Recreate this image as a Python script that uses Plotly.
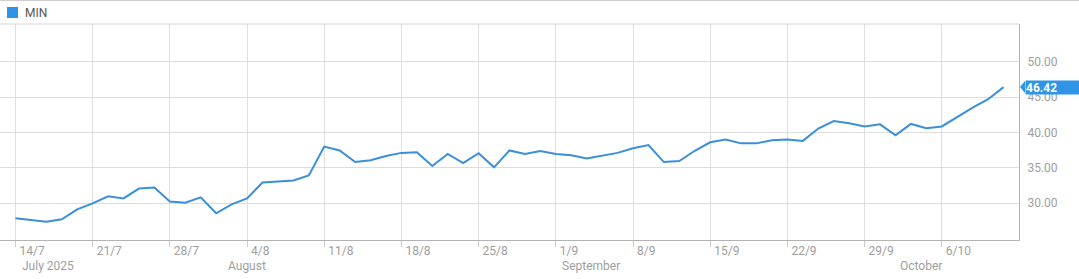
import plotly.graph_objects as go
import pandas as pd

series_name = "MIN"
dates = pd.bdate_range("2025-07-14", "2025-10-10")
values = [27.83, 27.55, 27.35, 27.70, 29.10, 29.95, 30.95, 30.65, 32.05, 32.20,
          30.20, 30.05, 30.80, 28.55, 29.80, 30.65, 32.90, 33.05, 33.20, 33.90,
          38.00, 37.45, 35.80, 36.05, 36.65, 37.10, 37.20, 35.25, 36.95, 35.65,
          37.05, 35.05, 37.45, 36.95, 37.35, 36.95, 36.75, 36.30, 36.75, 37.10,
          37.75, 38.20, 35.80, 35.95, 37.40, 38.60, 39.00, 38.45, 38.45, 38.90,
          39.00, 38.80, 40.55, 41.60, 41.30, 40.85, 41.15, 39.60, 41.20, 40.60,
          40.85, 42.20, 43.50, 44.70, 46.42]

tick_dates = ["2025-07-14", "2025-07-21", "2025-07-28", "2025-08-04", "2025-08-11",
              "2025-08-18", "2025-08-25", "2025-09-01", "2025-09-08", "2025-09-15",
              "2025-09-22", "2025-09-29", "2025-10-06"]
tick_labels = ["14/7", "21/7", "28/7", "4/8", "11/8", "18/8", "25/8", "1/9", "8/9",
               "15/9", "22/9", "29/9", "6/10"]
y_ticks = [30, 35, 40, 45, 50]
y_tick_labels = ["30.00", "35.00", "40.00", "45.00", "50.00"]

month_labels = ["July 2025", "August", "September", "October"]
month_anchor_dates = ["2025-07-14", "2025-08-04", "2025-09-01", "2025-10-06"]
month_xanchor = ["left", "center", "left", "right"]
month_xshift = [5, 0, 4, 2]

W, H = 1079, 279
ML, MR, MT, MB = 0, 60, 24, 39
PW, PH = W - ML - MR, H - MT - MB

def px_x(p):
    return (p - ML) / PW

def px_y(p):
    return (H - MB - p) / PH

LINE = "#3a8fdb"
FLAG = "#2f93e6"
GRID = "#dedede"
AXIS = "#b3b3b3"
TXT = "#9e9e9e"
FONT = "Roboto"

fig = go.Figure()
fig.add_trace(go.Scatter(x=dates, y=values, mode="lines", name=series_name,
                         line=dict(color=LINE, width=2), showlegend=False))

fig.update_layout(
    width=W, height=H,
    margin=dict(l=ML, r=MR, t=MT, b=MB),
    paper_bgcolor="white", plot_bgcolor="white",
    font=dict(family=FONT, size=12, color=TXT),
    xaxis=dict(
        type="date",
        range=["2025-07-11", "2025-10-11"],
        rangebreaks=[dict(bounds=["sat", "mon"])],
        tickvals=tick_dates, ticktext=tick_labels,
        ticklabelposition="outside right", ticklabelshift=3,
        ticks="outside", ticklen=6, tickcolor="#cccccc",
        showgrid=True, gridcolor=GRID, gridwidth=1,
        showline=True, linecolor=AXIS, linewidth=1,
        tickfont=dict(family=FONT, size=12, color=TXT),
        zeroline=False, fixedrange=True,
    ),
    yaxis=dict(
        side="right",
        range=[24.76, 55.36],
        tickvals=y_ticks, ticktext=y_tick_labels,
        ticks="", ticklabelstandoff=5,
        showgrid=True, gridcolor=GRID, gridwidth=1,
        showline=True, linecolor=AXIS, linewidth=1,
        tickfont=dict(family=FONT, size=12, color=TXT),
        zeroline=False, fixedrange=True,
    ),
)

shapes = [
    # top border of the plot box
    dict(type="line", xref="paper", yref="paper", x0=px_x(0), x1=1, y0=1, y1=1,
         line=dict(color="#d6d6d6", width=1)),
    # top border of the container
    dict(type="line", xref="paper", yref="paper", x0=px_x(0), x1=px_x(W), y0=px_y(0.5), y1=px_y(0.5),
         line=dict(color="#cfcfcf", width=1)),
    # legend square
    dict(type="rect", xref="paper", yref="paper", x0=px_x(7), x1=px_x(18), y0=px_y(18), y1=px_y(7),
         fillcolor=FLAG, line=dict(width=0)),
    # pointer of the last value flag
    dict(type="path", xref="paper", yref="y", xsizemode="pixel", ysizemode="pixel",
         xanchor=1.0, yanchor=values[-1], path="M1,0 L6,6 L6,-6 Z",
         fillcolor=FLAG, line=dict(width=0)),
]

annotations = [
    dict(text=series_name, xref="paper", yref="paper", x=px_x(23), y=px_y(12.5),
         xanchor="left", yanchor="middle", showarrow=False,
         font=dict(family=FONT, size=12, color="#555555")),
    dict(text=f"<b>{values[-1]:.2f}</b>", xref="paper", yref="y", x=px_x(1025), y=values[-1],
         xanchor="left", yanchor="middle", showarrow=False, bgcolor=FLAG,
         width=54, height=13, align="left", borderpad=0,
         font=dict(family=FONT, size=12, color="white")),
]
for lab, d, xa, xs in zip(month_labels, month_anchor_dates, month_xanchor, month_xshift):
    annotations.append(dict(text=lab, xref="x", yref="paper", x=d, y=0, yshift=-25.5,
                            xanchor=xa, yanchor="middle", xshift=xs, showarrow=False,
                            font=dict(family=FONT, size=12, color=TXT)))

fig.update_layout(shapes=shapes, annotations=annotations)
fig.write_html("out.html")
